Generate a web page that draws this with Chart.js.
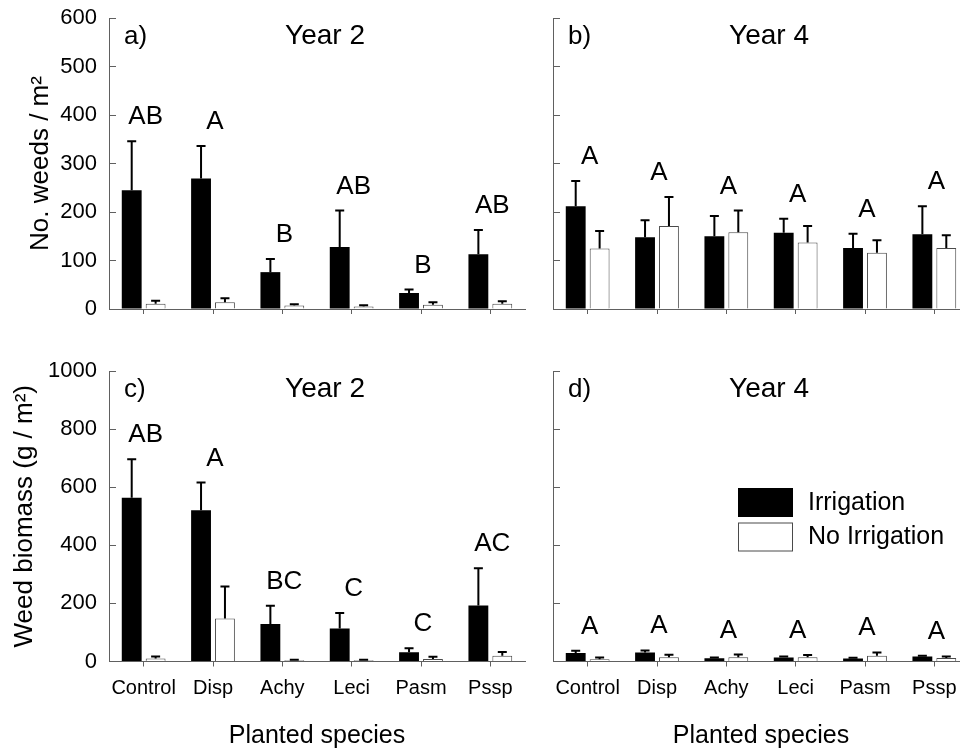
<!DOCTYPE html>
<html>
<head>
<meta charset="utf-8">
<script src="https://cdn.jsdelivr.net/npm/chart.js@4.4.0/dist/chart.umd.min.js"></script>
<style>
    html, body { margin: 0; padding: 0; background: #fff; overflow: hidden; width: 960px; height: 750px; }
    canvas { position: absolute; }
</style>
</head>
<body>
<canvas id="chart-a" width="540" height="340" style="left:0;top:0"></canvas>
<canvas id="chart-b" width="440" height="340" style="left:540px;top:0"></canvas>
<canvas id="chart-c" width="540" height="410" style="left:0;top:340px"></canvas>
<canvas id="chart-d" width="440" height="410" style="left:540px;top:340px"></canvas>
<script>
const species = ['Control', 'Disp', 'Achy', 'Leci', 'Pasm', 'Pssp'];

// a) No. weeds, Year 2
const weedsY2Irr = [245, 269, 76, 128, 33, 113];
const weedsY2IrrSE = [101, 67, 27, 75, 7, 50];
const weedsY2NoIrr = [11, 14, 7, 5, 9, 11];
const weedsY2NoIrrSE = [6, 8, 3, 2.5, 5, 5];
const weedsY2Letters = ['AB', 'A', 'B', 'AB', 'B', 'AB'];

// b) No. weeds, Year 4
const weedsY4Irr = [212, 148, 150, 157, 126, 154];
const weedsY4IrrSE = [52, 35, 42, 29, 29, 58];
const weedsY4NoIrr = [125, 171, 158, 137, 116, 126];
const weedsY4NoIrrSE = [36, 60, 45, 34, 26, 26];
const weedsY4Letters = ['A', 'A', 'A', 'A', 'A', 'A'];

// c) Weed biomass, Year 2
const biomassY2Irr = [564, 521, 129, 114, 32, 193];
const biomassY2IrrSE = [132, 95, 63, 53, 14, 128];
const biomassY2NoIrr = [10, 148, 4, 4, 9, 20];
const biomassY2NoIrrSE = [7, 110, 2, 2, 7, 13];
const biomassY2Letters = ['AB', 'A', 'BC', 'C', 'C', 'AC'];

// d) Weed biomass, Year 4
const biomassY4Irr = [29, 31, 11, 14, 10, 17];
const biomassY4IrrSE = [8, 7, 3, 3, 3, 3];
const biomassY4NoIrr = [8, 15, 15, 15, 20, 12];
const biomassY4NoIrrSE = [6, 8, 9, 7, 11, 5];
const biomassY4Letters = ['A', 'A', 'A', 'A', 'A', 'A'];

const FONT = '"Liberation Sans", Arial, sans-serif';
const AXIS_GRAY = '#606060';
Chart.defaults.font.family = FONT;
Chart.defaults.color = '#000';

// upper error bars (mean + SE)
const errorBars = {
    id: 'errorBars',
    afterDatasetsDraw(chart) {
        const ctx = chart.ctx;
        const yScale = chart.scales.y;
        ctx.save();
        ctx.strokeStyle = '#000';
        ctx.lineWidth = 2;
        chart.data.datasets.forEach((ds, i) => {
            chart.getDatasetMeta(i).data.forEach((bar, j) => {
                const top = yScale.getPixelForValue(ds.data[j] + ds.se[j]);
                ctx.beginPath();
                ctx.moveTo(bar.x, bar.y);
                ctx.lineTo(bar.x, top);
                ctx.moveTo(bar.x - 4.5, top);
                ctx.lineTo(bar.x + 4.5, top);
                ctx.stroke();
            });
        });
        ctx.restore();
    }
};

// panel tag, year title, significance letters and legend
const panelText = {
    id: 'panelText',
    afterDraw(chart, args, opts) {
        const ctx = chart.ctx;
        const area = chart.chartArea;
        const xScale = chart.scales.x;
        const yScale = chart.scales.y;
        ctx.save();
        ctx.fillStyle = '#000';
        ctx.textBaseline = 'alphabetic';
        ctx.font = '26px ' + FONT;
        ctx.textAlign = 'left';
        ctx.fillText(opts.tag, area.left + 15, area.top + 26);
        ctx.textAlign = 'center';
        ctx.font = '28px ' + FONT;
        ctx.fillText(opts.year, (area.left + area.right) / 2 + 8, area.top + 26);

        ctx.font = '26px ' + FONT;
        opts.letters.forEach((letter, j) => {
            let top = area.bottom;
            chart.data.datasets.forEach(ds => {
                top = Math.min(top, yScale.getPixelForValue(ds.data[j] + ds.se[j]));
            });
            ctx.fillText(letter, xScale.getPixelForValue(j) + 2, top - 17);
        });

        if (opts.legend) {
            const bx = area.left + 185;
            const by = area.top + 117;
            ctx.font = '25px ' + FONT;
            ctx.textAlign = 'left';
            ctx.textBaseline = 'middle';
            chart.data.datasets.forEach((ds, i) => {
                const y = by + i * 34.5;
                ctx.fillStyle = ds.backgroundColor;
                ctx.fillRect(bx, y, 55, 29);
                ctx.strokeStyle = ds.borderColor;
                ctx.lineWidth = 1;
                ctx.strokeRect(bx + 0.5, y + 0.5, 54, 28);
                ctx.fillStyle = '#000';
                ctx.fillText(ds.label, bx + 70, y + 15);
            });
        }
        ctx.restore();
    }
};

function makePanel(canvasId, cfg) {
    const ctx = document.getElementById(canvasId).getContext('2d');
    return new Chart(ctx, {
        type: 'bar',
        data: {
            labels: species,
            datasets: [{
                label: 'Irrigation',
                data: cfg.irr,
                se: cfg.irrSE,
                backgroundColor: '#000000',
                borderColor: '#000000',
                borderWidth: 0
            }, {
                label: 'No Irrigation',
                data: cfg.noIrr,
                se: cfg.noIrrSE,
                backgroundColor: '#ffffff',
                borderColor: '#4a4a4a',
                borderWidth: 1
            }]
        },
        options: {
            responsive: false,
            animation: false,
            categoryPercentage: 0.69,
            barPercentage: 0.83,
            layout: { padding: cfg.padding },
            plugins: {
                legend: { display: false },
                tooltip: { enabled: false },
                panelText: {
                    tag: cfg.tag,
                    year: cfg.year,
                    letters: cfg.letters,
                    legend: cfg.legend || false
                }
            },
            scales: {
                x: {
                    grid: { offset: false, drawOnChartArea: false, tickLength: 5, color: AXIS_GRAY },
                    border: { color: AXIS_GRAY },
                    ticks: {
                        display: cfg.showX, padding: 10, font: { size: 20 },
                        maxRotation: 0, minRotation: 0, autoSkip: false
                    },
                    title: {
                        display: cfg.showX,
                        text: 'Planted species',
                        font: { size: 25, lineHeight: 1.12 },
                        padding: 0
                    },
                    afterFit: s => {
                        s.height = cfg.xHeight;
                        s.paddingLeft = 0;
                        s.paddingRight = 0;
                    }
                },
                y: {
                    min: 0,
                    max: cfg.max,
                    grid: { drawOnChartArea: false, tickLength: -7, color: AXIS_GRAY },
                    border: { color: AXIS_GRAY },
                    ticks: {
                        stepSize: cfg.step, display: cfg.showY, padding: 19, font: { size: 22 },
                        callback: value => String(value)
                    },
                    title: {
                        display: !!cfg.yTitle,
                        text: cfg.yTitle || '',
                        font: { size: 26 },
                        padding: { top: cfg.yTitlePad || 0, bottom: 0 }
                    },
                    afterFit: s => {
                        s.width = cfg.yWidth;
                        s.paddingTop = 0;
                        s.paddingBottom = 0;
                    }
                }
            }
        },
        plugins: [errorBars, panelText]
    });
}

makePanel('chart-a', {
    irr: weedsY2Irr, irrSE: weedsY2IrrSE, noIrr: weedsY2NoIrr, noIrrSE: weedsY2NoIrrSE,
    letters: weedsY2Letters, tag: 'a)', year: 'Year 2',
    max: 600, step: 100, showY: true, showX: false,
    yTitle: 'No. weeds / m\u00B2', yTitlePad: 25,
    yWidth: 109, xHeight: 31,
    padding: { top: 18, right: 15, left: 0, bottom: 0 }
});

makePanel('chart-b', {
    irr: weedsY4Irr, irrSE: weedsY4IrrSE, noIrr: weedsY4NoIrr, noIrrSE: weedsY4NoIrrSE,
    letters: weedsY4Letters, tag: 'b)', year: 'Year 4',
    max: 600, step: 100, showY: false, showX: false,
    yWidth: 13, xHeight: 31,
    padding: { top: 18, right: 11, left: 0, bottom: 0 }
});

makePanel('chart-c', {
    irr: biomassY2Irr, irrSE: biomassY2IrrSE, noIrr: biomassY2NoIrr, noIrrSE: biomassY2NoIrrSE,
    letters: biomassY2Letters, tag: 'c)', year: 'Year 2',
    max: 1000, step: 200, showY: true, showX: true,
    yTitle: 'Weed biomass (g / m\u00B2)', yTitlePad: 9,
    yWidth: 109, xHeight: 88.5,
    padding: { top: 31, right: 15, left: 0, bottom: 0 }
});

makePanel('chart-d', {
    irr: biomassY4Irr, irrSE: biomassY4IrrSE, noIrr: biomassY4NoIrr, noIrrSE: biomassY4NoIrrSE,
    letters: biomassY4Letters, tag: 'd)', year: 'Year 4',
    max: 1000, step: 200, showY: false, showX: true,
    yWidth: 13, xHeight: 88.5, legend: true,
    padding: { top: 31, right: 11, left: 0, bottom: 0 }
});
</script>
</body>
</html>
